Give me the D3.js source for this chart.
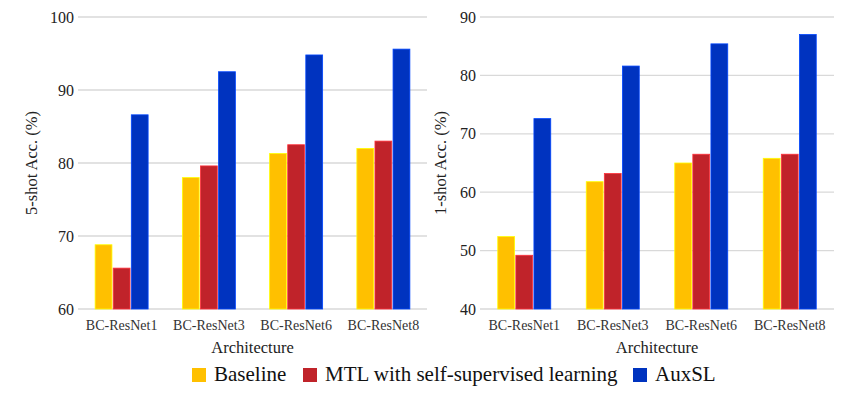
<!DOCTYPE html>
<html lang="en">
<head>
<meta charset="UTF-8">
<title>Few-shot accuracy by architecture</title>
<script src="https://d3js.org/d3.v7.min.js"></script>
<style>
    body { margin: 0; background: #fff; }
    svg { display: block; font-family: "Liberation Serif", "Times New Roman", serif; }
    .grid line { stroke: #d9d9d9; stroke-width: 1.3px; }
    .tick-label { font-size: 16px; fill: #222; }
    .cat-label { font-size: 14px; fill: #333; }
    .axis-title { font-size: 16.5px; fill: #222; }
    .legend text { font-size: 21px; fill: #111; }
</style>
</head>
<body>
<svg id="chart" width="851" height="399"></svg>
<script>
    // chart data
    const categories = ["BC-ResNet1", "BC-ResNet3", "BC-ResNet6", "BC-ResNet8"];
    const seriesNames = ["Baseline", "MTL with self-supervised learning", "AuxSL"];
    const colors = ["#FFC000", "#C0232A", "#0033BF"];

    const fiveShotBaseline = [68.8, 78.0, 81.3, 82.0];
    const fiveShotMTL = [65.6, 79.6, 82.5, 83.0];
    const fiveShotAuxSL = [86.6, 92.5, 94.8, 95.6];
    const fiveShotTicks = [60, 70, 80, 90, 100];

    const oneShotBaseline = [52.4, 61.8, 65.0, 65.8];
    const oneShotMTL = [49.2, 63.2, 66.5, 66.5];
    const oneShotAuxSL = [72.6, 81.6, 85.4, 87.0];
    const oneShotTicks = [40, 50, 60, 70, 80, 90];

    const svg = d3.select("#chart");

    function drawPanel(opts) {
        const g = svg.append("g");
        const x = d3.scaleBand().domain(categories).range([opts.x0, opts.x1]);
        const x1 = d3.scaleBand().domain(seriesNames).range([0, 53]).paddingInner(0.07);
        const y = d3.scaleLinear()
            .domain([opts.ticks[0], opts.ticks[opts.ticks.length - 1]])
            .range([309, 17]);

        // gridlines
        g.append("g").attr("class", "grid")
            .selectAll("line").data(opts.ticks).join("line")
            .attr("x1", opts.x0).attr("x2", opts.x1)
            .attr("y1", d => y(d)).attr("y2", d => y(d));

        // y tick labels
        g.selectAll(".tick-label").data(opts.ticks).join("text")
            .attr("class", "tick-label")
            .attr("x", opts.x0 - 4).attr("y", d => y(d))
            .attr("dy", "0.35em").attr("text-anchor", "end")
            .text(d => d);

        // bars
        const rows = categories.map((c, i) => ({
            cat: c,
            vals: opts.series.map((s, k) => ({ name: seriesNames[k], v: s[i], k }))
        }));
        const groups = g.selectAll(".grp").data(rows).join("g")
            .attr("transform", d => `translate(${x(d.cat) + (x.bandwidth() - 53) / 2},0)`);
        groups.selectAll("rect").data(d => d.vals).join("rect")
            .attr("x", d => x1(d.name))
            .attr("width", x1.bandwidth())
            .attr("y", d => y(d.v))
            .attr("height", d => y(opts.ticks[0]) - y(d.v))
            .attr("fill", d => colors[d.k])
            .attr("stroke", d => d3.color(colors[d.k]).brighter(0.9))
            .attr("stroke-width", 0.8);

        // category labels
        g.selectAll(".cat-label").data(categories).join("text")
            .attr("class", "cat-label")
            .attr("x", d => x(d) + x.bandwidth() / 2)
            .attr("y", 330)
            .attr("text-anchor", "middle")
            .text(d => d);

        // axis titles
        g.append("text").attr("class", "axis-title")
            .attr("x", (opts.x0 + opts.x1) / 2).attr("y", 353)
            .attr("text-anchor", "middle")
            .text("Architecture");
        g.append("text").attr("class", "axis-title")
            .attr("transform", `translate(${opts.titleX},163) rotate(-90)`)
            .attr("text-anchor", "middle")
            .text(opts.yTitle);
    }

    drawPanel({
        x0: 78, x1: 427, titleX: 37,
        ticks: fiveShotTicks,
        series: [fiveShotBaseline, fiveShotMTL, fiveShotAuxSL],
        yTitle: "5-shot Acc. (%)"
    });
    drawPanel({
        x0: 480, x1: 834, titleX: 446,
        ticks: oneShotTicks,
        series: [oneShotBaseline, oneShotMTL, oneShotAuxSL],
        yTitle: "1-shot Acc. (%)"
    });

    // legend
    const legendX = [192, 303, 633];
    const legend = svg.append("g").attr("class", "legend");
    const items = legend.selectAll("g").data(seriesNames).join("g")
        .attr("transform", (d, i) => `translate(${legendX[i]},368)`);
    items.append("rect")
        .attr("width", 14).attr("height", 14)
        .attr("fill", (d, i) => colors[i]);
    items.append("text")
        .attr("x", 22).attr("y", 13)
        .text(d => d);
</script>
</body>
</html>
